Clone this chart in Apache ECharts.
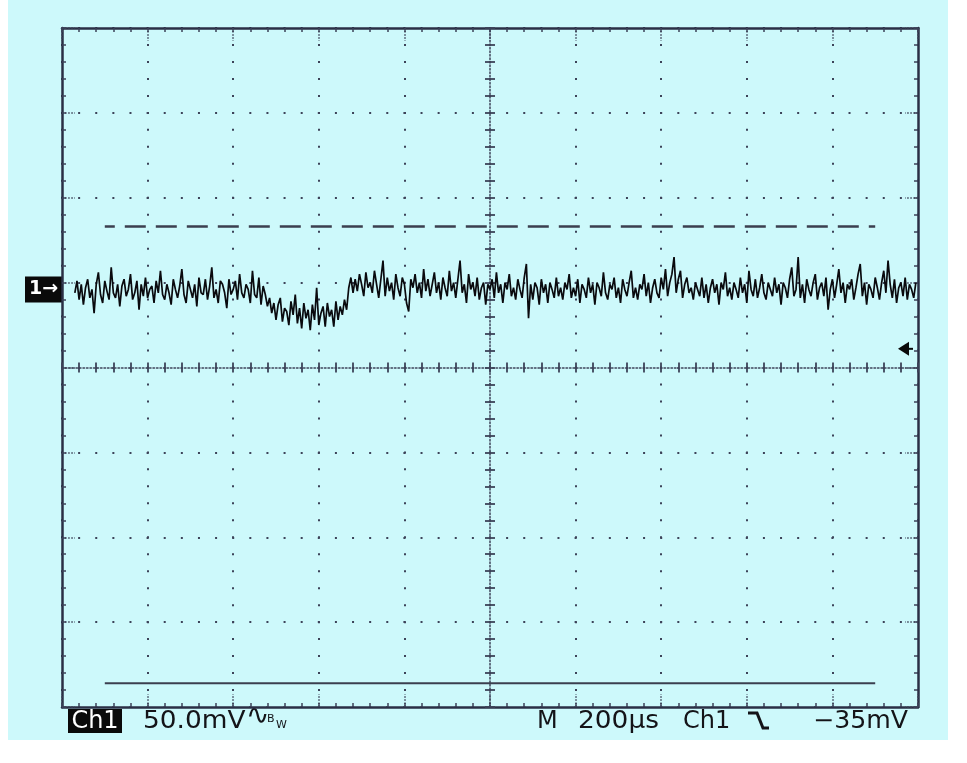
<!DOCTYPE html>
<html><head><meta charset="utf-8">
<script src="https://cdn.jsdelivr.net/npm/echarts@6/dist/echarts.min.js"></script>
<style>
html,body{margin:0;padding:0;background:#ffffff;}
#bg{position:absolute;left:8px;top:0px;width:940px;height:740px;background:#cdf9fb;}
#c{position:absolute;left:0;top:0;width:967px;height:763px;}
</style>
</head><body><div id="bg"></div><div id="c"></div>
<script>
// ---- scope settings ----
const TIME_PER_DIV_US = 200;
const MV_PER_DIV = 50;
const H_DIVS = 10;
const V_DIVS = 8;
const CH1_POSITION_DIV = 0.92;     // ground marker position above centre
const TRIGGER_LEVEL_MV = -35;

// ---- Ch1 trace (mV), sampled every TRACE_DT_US from TRACE_T0_US ----
const TRACE_T0_US = -970;
const TRACE_DT_US = 5;
const TRACE_MV = [
 -2, 5, -6, 3, -9, 1, 6, -5, 0, -14,
 3, 10, -3, -8, 5, -1, -6, 13, -2, -5,
 3, -10, 2, 6, -4, 0, 9, -6, -2, 5,
 -12, 3, -4, 7, -5, 0, 2, -8, 5, -2,
 11, -3, -6, 3, -2, -9, 6, 0, -5, 2,
 12, -3, -8, 5, 0, -5, 3, -10, 7, -2,
 -3, 6, -6, 2, 13, -5, 0, -8, 5, 3,
 -2, -11, 6, -3, 0, 5, -6, 9, -2, -5,
 3, 0, -8, 11, -3, -5, 7, -9, 2,
 -3, -10, -5, -14, -8, -18, -9, -5, -19, -11,
 -13, -21, -7, -15, -3, -20, -11, -23, -8, -17,
 -12, -24, -9, -18, 1, -21, -14, -10, -22, -8,
 -16, -12, -22, -7, -18, -10, -15, -6, -12,
 1, 7, -2, 6, -1, 9, 3, -4, 10, 1,
 4, -2, 11, 3, -5, 6, 17, -4, 7, -1,
 4, -6, 9, 1, -4, 7, 3, -8, -13, 6,
 1, 9, -2, 4, -5, 12, -1, 6, -4, 3,
 10, -2, 4, -6, 7, 1, -4, 11, -1, 4,
 -5, 6, 17, -2, 3, -8, 9, 0, 4, -4,
 7, -6, 1, 4, -9, 3, 0, 6, -5, 10,
 -2, 3, -8, 4, 0, 9, -4, 1, -6, 6,
 0, -5, 7, 15, -17, 3, -6, 4, 1, -9,
 6, -2, 3, -8, 4, 0, -5, 7, -4, 1,
 -6, 4, 0, 9, -5, 1, -4, 6, -8, 3,
 0, -5, 7, -2, 3, -9, 4, 1, -4, 10,
 -2, -6, 3, 0, 7, -5, 1, -8, 6, 0,
 -4, 4, 11, -5, 1, -6, 3, 0, 9, -4,
 4, -8, 1, 6, -2, -5, 7, 0, 12, -4,
 4, 9, 19, -2, 6, 11, -5, 3, 7, -2,
 1, -6, 4, 0, -4, 7, -5, 3, -8, 1,
 6, -2, 3, -9, 4, 0, 10, -4, 1, -6,
 4, 0, -5, 7, -2, 3, -8, 11, 0, -4,
 6, -5, 1, 9, -2, -6, 4, 0, -4, 7,
 -2, 3, -9, 4, 1, -5, 6, 13, -4, 0,
 19, -5, 3, -8, 6, 0, -4, 4, 9, -6,
 1, 4, -4, 7, -12, 0, 6, -5, 3, 12,
 -2, 4, -8, 3, 0, 6, -6, 1, 9, 15,
 -4, 4, -9, 3, 0, -5, 7, 1, -6, 4,
 11, -2, 17, 3, -5, 6, -8, 1, 4, -4,
 7, -6, 3, 0, -5, 4
];

// ---- reference lines (mV) ----
const REF_SPAN_US = [-900, 900];
const REF_DASHED_MV = 37;
const REF_SOLID_MV = -232;

// ---- readout texts ----
const LABEL_CHANNEL = 'Ch1';
const LABEL_SCALE = '50.0mV';
const LABEL_BW = '\u223F';
const LABEL_TIMEBASE_M = 'M';
const LABEL_TIMEBASE = '200\u00B5s';
const LABEL_TRIG_SRC = 'Ch1';
const LABEL_TRIG_LEVEL = '\u221235mV';
const LABEL_GROUND = '1\u2192';

const X_HALF = TIME_PER_DIV_US * H_DIVS / 2;
const Y_HALF = V_DIVS / 2;
const toDiv = mv => CH1_POSITION_DIV + mv / MV_PER_DIV;

const frameColor = '#2a2f45';
const dotColor = '#3d4359';
const FONT = 'DejaVu Sans';

const baseX = {type:'value', min:-X_HALF, max:X_HALF, axisLabel:{show:false}, splitLine:{show:false}, axisTick:{show:false}, axisLine:{show:false,onZero:false}};
const baseY = {type:'value', min:-Y_HALF, max:Y_HALF, axisLabel:{show:false}, splitLine:{show:false}, axisTick:{show:false}, axisLine:{show:false,onZero:false}};
const minorX = TIME_PER_DIV_US / 5, minorY = 0.2;

const xAxis = [
  {...baseX, position:'bottom', interval:minorX, axisLine:{show:true,onZero:false,lineStyle:{color:frameColor,width:2.5}}, axisTick:{show:true,inside:true,length:4,lineStyle:{color:dotColor,width:1.5}}},
  {...baseX, position:'top', interval:minorX, axisLine:{show:true,onZero:false,lineStyle:{color:frameColor,width:2.5}}, axisTick:{show:true,inside:true,length:4,lineStyle:{color:dotColor,width:1.5}}},
  {...baseX, position:'bottom', interval:TIME_PER_DIV_US, splitLine:{show:true,lineStyle:{color:dotColor,width:2,type:[2,14.975],dashOffset:1}}, axisTick:{show:true,inside:true,length:13,lineStyle:{color:dotColor,width:1.5,type:[1.5,1.6]}}},
  {...baseX, position:'top', interval:TIME_PER_DIV_US, axisTick:{show:true,inside:true,length:13,lineStyle:{color:dotColor,width:1.5,type:[1.5,1.6]}}},
  {...baseX, position:'bottom', interval:minorX, axisLine:{show:true,onZero:true,onZeroAxisIndex:0,lineStyle:{color:dotColor,width:1.5,type:[1.5,2]}}, axisTick:{show:true,inside:true,length:5,lineStyle:{color:dotColor,width:1.8}}},
  {...baseX, position:'bottom', interval:minorX, axisLine:{show:false,onZero:true,onZeroAxisIndex:0}, axisTick:{show:true,inside:false,length:5,lineStyle:{color:dotColor,width:1.8}}}
];
const yAxis = [
  {...baseY, position:'left', interval:minorY, axisLine:{show:true,onZero:false,lineStyle:{color:frameColor,width:2.5}}, axisTick:{show:true,inside:true,length:4,lineStyle:{color:dotColor,width:1.5}}},
  {...baseY, position:'right', interval:minorY, axisLine:{show:true,onZero:false,lineStyle:{color:frameColor,width:2.5}}, axisTick:{show:true,inside:true,length:4,lineStyle:{color:dotColor,width:1.5}}},
  {...baseY, position:'left', interval:1, splitLine:{show:true,lineStyle:{color:dotColor,width:2,type:[2,15.12],dashOffset:1}}, axisTick:{show:true,inside:true,length:13,lineStyle:{color:dotColor,width:1.5,type:[1.5,1.6]}}},
  {...baseY, position:'right', interval:1, axisTick:{show:true,inside:true,length:13,lineStyle:{color:dotColor,width:1.5,type:[1.5,1.6]}}},
  {...baseY, position:'left', interval:minorY, axisLine:{show:true,onZero:true,onZeroAxisIndex:0,lineStyle:{color:dotColor,width:1.5,type:[1.5,2]}}, axisTick:{show:true,inside:true,length:5,lineStyle:{color:dotColor,width:1.8}}},
  {...baseY, position:'left', interval:minorY, axisLine:{show:false,onZero:true,onZeroAxisIndex:0}, axisTick:{show:true,inside:false,length:5,lineStyle:{color:dotColor,width:1.8}}}
];

const traceData = TRACE_MV.map((mv, i) => [TRACE_T0_US + i * TRACE_DT_US, toDiv(mv)]);

const chart = echarts.init(document.getElementById('c'), null, {renderer:'canvas'});
chart.setOption({
  animation:false,
  backgroundColor:'transparent',
  grid:{left:62, top:28, width:856, height:679, containLabel:false},
  xAxis, yAxis,
  series:[
    {type:'line', xAxisIndex:0, yAxisIndex:0, data:REF_SPAN_US.map(t => [t, toDiv(REF_DASHED_MV)]), symbol:'none', silent:true,
     lineStyle:{color:'#3b3f4f', width:2.5, type:[21,10], dashOffset:11}, z:3},
    {type:'line', xAxisIndex:0, yAxisIndex:0, data:REF_SPAN_US.map(t => [t, toDiv(REF_SOLID_MV)]), symbol:'none', silent:true,
     lineStyle:{color:'#3b3f4f', width:2}, z:3},
    {type:'line', xAxisIndex:0, yAxisIndex:0, data:traceData, symbol:'none', showSymbol:false, sampling:null, silent:true,
     lineStyle:{color:'#0a0a0e', width:1.7}, z:4}
  ]
});

const groundY = chart.convertToPixel({xAxisIndex:0, yAxisIndex:0}, [0, toDiv(0)])[1];
const trigY = chart.convertToPixel({xAxisIndex:0, yAxisIndex:0}, [0, toDiv(TRIGGER_LEVEL_MV)])[1];
const txt = (x, y, s, opts, sx) => Object.assign({type:'text', x, y, scaleX: sx || 1, silent:true,
  style:Object.assign({text:s, fill:'#141418', font:'24px "' + FONT + '"', textAlign:'left', textVerticalAlign:'middle'}, opts || {})});

chart.setOption({
  graphic:[
    // ground marker
    {type:'rect', shape:{x:25, y:groundY - 13, width:37, height:26}, style:{fill:'#0a0a0a'}, silent:true},
    txt(43.5, groundY, LABEL_GROUND, {fill:'#ffffff', font:'bold 19px "' + FONT + '"', textAlign:'center'}),
    // trigger level arrow
    {type:'polygon', shape:{points:[[898, trigY], [909, trigY - 7], [909, trigY + 7]]}, style:{fill:'#0a0a0a'}, silent:true},
    {type:'line', shape:{x1:908, y1:trigY, x2:913, y2:trigY}, style:{stroke:'#0a0a0a', lineWidth:2}, silent:true},
    // readout
    {type:'rect', shape:{x:68, y:709, width:54, height:24}, style:{fill:'#0a0a0a'}, silent:true},
    txt(95, 722, LABEL_CHANNEL, {fill:'#ffffff', textAlign:'center'}),
    txt(143, 722, LABEL_SCALE, null, 1.1),
    txt(246, 717, LABEL_BW, {font:'28px "' + FONT + '"'}),
    txt(267, 719, 'B', {font:'11px "' + FONT + '"'}),
    txt(276, 725, 'W', {font:'11px "' + FONT + '"'}),
    txt(537, 722, LABEL_TIMEBASE_M),
    txt(578, 722, LABEL_TIMEBASE, null, 1.1),
    txt(683, 722, LABEL_TRIG_SRC),
    {type:'polyline', shape:{points:[[748, 713], [757, 713], [763, 728], [769, 728]]}, style:{stroke:'#141418', lineWidth:3, fill:null}, silent:true},
    txt(908, 722, LABEL_TRIG_LEVEL, {textAlign:'right'}, 1.05)
  ]
});
</script>
</body></html>
